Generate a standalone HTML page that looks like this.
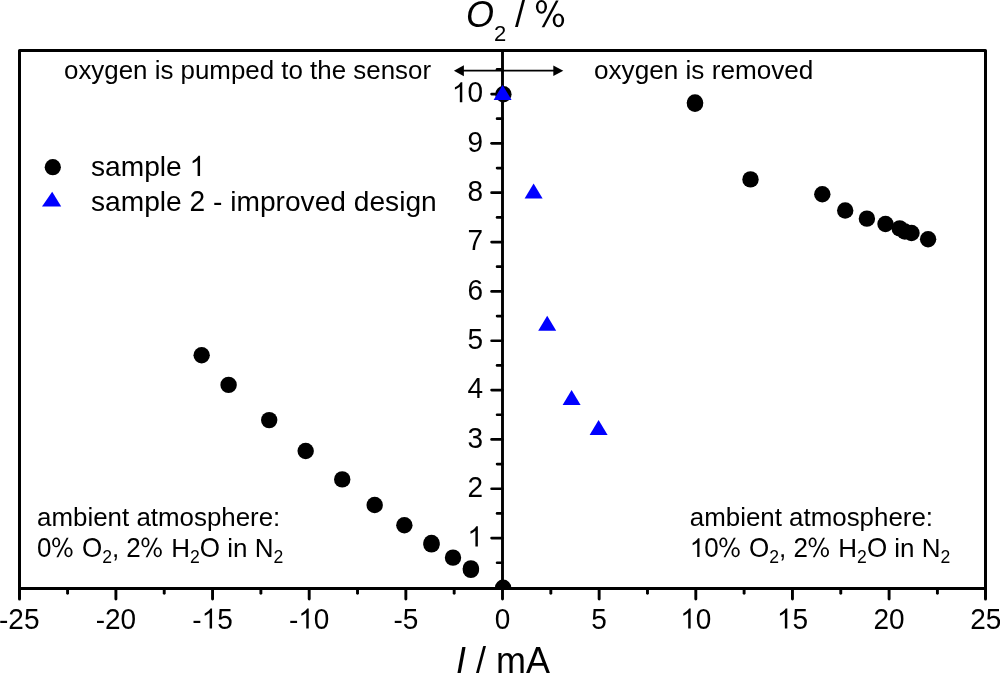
<!DOCTYPE html><html><head><meta charset="utf-8"><style>html,body{margin:0;padding:0;background:#fff;width:1000px;height:674px;overflow:hidden}svg{display:block;will-change:transform}text{font-family:"Liberation Sans",sans-serif;fill:#000;font-kerning:none;white-space:pre}</style></head><body><svg width="1000" height="674" viewBox="0 0 1000 674"><defs><clipPath id="pc"><rect x="19.5" y="50.5" width="966.0" height="539.5"/></clipPath></defs><g stroke="#000" fill="none"><rect x="19.5" y="50.5" width="966.0" height="538.0" stroke-width="3" stroke-linejoin="round"/><line x1="502.5" y1="50.5" x2="502.5" y2="588.5" stroke-width="2.9"/><line x1="19.50" y1="588.5" x2="19.50" y2="599" stroke-width="3" stroke-linecap="round"/><line x1="67.58" y1="588.5" x2="67.58" y2="593.2" stroke-width="2.9" stroke-linecap="round"/><line x1="115.90" y1="588.5" x2="115.90" y2="599" stroke-width="2.9" stroke-linecap="round"/><line x1="164.23" y1="588.5" x2="164.23" y2="593.2" stroke-width="2.9" stroke-linecap="round"/><line x1="212.55" y1="588.5" x2="212.55" y2="599" stroke-width="2.9" stroke-linecap="round"/><line x1="260.88" y1="588.5" x2="260.88" y2="593.2" stroke-width="2.9" stroke-linecap="round"/><line x1="309.20" y1="588.5" x2="309.20" y2="599" stroke-width="2.9" stroke-linecap="round"/><line x1="357.52" y1="588.5" x2="357.52" y2="593.2" stroke-width="2.9" stroke-linecap="round"/><line x1="405.85" y1="588.5" x2="405.85" y2="599" stroke-width="2.9" stroke-linecap="round"/><line x1="454.18" y1="588.5" x2="454.18" y2="593.2" stroke-width="2.9" stroke-linecap="round"/><line x1="502.50" y1="588.5" x2="502.50" y2="599" stroke-width="2.9" stroke-linecap="round"/><line x1="550.83" y1="588.5" x2="550.83" y2="593.2" stroke-width="2.9" stroke-linecap="round"/><line x1="599.15" y1="588.5" x2="599.15" y2="599" stroke-width="2.9" stroke-linecap="round"/><line x1="647.48" y1="588.5" x2="647.48" y2="593.2" stroke-width="2.9" stroke-linecap="round"/><line x1="695.80" y1="588.5" x2="695.80" y2="599" stroke-width="2.9" stroke-linecap="round"/><line x1="744.12" y1="588.5" x2="744.12" y2="593.2" stroke-width="2.9" stroke-linecap="round"/><line x1="792.45" y1="588.5" x2="792.45" y2="599" stroke-width="2.9" stroke-linecap="round"/><line x1="840.77" y1="588.5" x2="840.77" y2="593.2" stroke-width="2.9" stroke-linecap="round"/><line x1="889.10" y1="588.5" x2="889.10" y2="599" stroke-width="2.9" stroke-linecap="round"/><line x1="937.42" y1="588.5" x2="937.42" y2="593.2" stroke-width="2.9" stroke-linecap="round"/><line x1="985.50" y1="588.5" x2="985.50" y2="599" stroke-width="3" stroke-linecap="round"/><line x1="497.1" y1="562.76" x2="502.5" y2="562.76" stroke-width="2.7" stroke-linecap="round"/><line x1="491.6" y1="538.09" x2="502.5" y2="538.09" stroke-width="2.7" stroke-linecap="round"/><line x1="497.1" y1="513.42" x2="502.5" y2="513.42" stroke-width="2.7" stroke-linecap="round"/><line x1="491.6" y1="488.75" x2="502.5" y2="488.75" stroke-width="2.7" stroke-linecap="round"/><line x1="497.1" y1="464.08" x2="502.5" y2="464.08" stroke-width="2.7" stroke-linecap="round"/><line x1="491.6" y1="439.41" x2="502.5" y2="439.41" stroke-width="2.7" stroke-linecap="round"/><line x1="497.1" y1="414.74" x2="502.5" y2="414.74" stroke-width="2.7" stroke-linecap="round"/><line x1="491.6" y1="390.07" x2="502.5" y2="390.07" stroke-width="2.7" stroke-linecap="round"/><line x1="497.1" y1="365.40" x2="502.5" y2="365.40" stroke-width="2.7" stroke-linecap="round"/><line x1="491.6" y1="340.73" x2="502.5" y2="340.73" stroke-width="2.7" stroke-linecap="round"/><line x1="497.1" y1="316.06" x2="502.5" y2="316.06" stroke-width="2.7" stroke-linecap="round"/><line x1="491.6" y1="291.39" x2="502.5" y2="291.39" stroke-width="2.7" stroke-linecap="round"/><line x1="497.1" y1="266.72" x2="502.5" y2="266.72" stroke-width="2.7" stroke-linecap="round"/><line x1="491.6" y1="242.05" x2="502.5" y2="242.05" stroke-width="2.7" stroke-linecap="round"/><line x1="497.1" y1="217.38" x2="502.5" y2="217.38" stroke-width="2.7" stroke-linecap="round"/><line x1="491.6" y1="192.71" x2="502.5" y2="192.71" stroke-width="2.7" stroke-linecap="round"/><line x1="497.1" y1="168.04" x2="502.5" y2="168.04" stroke-width="2.7" stroke-linecap="round"/><line x1="491.6" y1="143.37" x2="502.5" y2="143.37" stroke-width="2.7" stroke-linecap="round"/><line x1="497.1" y1="118.70" x2="502.5" y2="118.70" stroke-width="2.7" stroke-linecap="round"/><line x1="491.6" y1="94.03" x2="502.5" y2="94.03" stroke-width="2.7" stroke-linecap="round"/><line x1="497.1" y1="69.36" x2="502.5" y2="69.36" stroke-width="2.7" stroke-linecap="round"/></g><line x1="463" y1="70.6" x2="554" y2="70.6" stroke="#000" stroke-width="1.9"/><path d="M453.9 70.8L463.9 65.2L463.9 76.2Z" fill="#000"/><path d="M563.3 70.8L553.3 65.4L553.3 76.1Z" fill="#000"/><g clip-path="url(#pc)" fill="#000"><circle cx="201.66" cy="355.20" r="8.2"/><circle cx="228.60" cy="384.90" r="8.2"/><circle cx="269.20" cy="420.10" r="8.2"/><circle cx="305.67" cy="451.07" r="8.2"/><circle cx="342.24" cy="479.40" r="8.2"/><circle cx="374.69" cy="504.98" r="8.2"/><circle cx="404.36" cy="525.30" r="8.2"/><circle cx="431.50" cy="543.00" r="8.2"/><circle cx="431.50" cy="544.40" r="8.2"/><circle cx="453.00" cy="557.67" r="8.2"/><circle cx="470.90" cy="568.40" r="8.2"/><circle cx="470.90" cy="569.90" r="8.2"/><circle cx="503.10" cy="587.70" r="8.2"/><circle cx="503.40" cy="94.30" r="8.2"/><circle cx="695.00" cy="102.50" r="8.2"/><circle cx="695.00" cy="103.70" r="8.2"/><circle cx="750.50" cy="179.40" r="8.2"/><circle cx="822.30" cy="194.30" r="8.2"/><circle cx="845.20" cy="210.50" r="8.2"/><circle cx="866.90" cy="218.65" r="8.2"/><circle cx="885.50" cy="224.00" r="8.2"/><circle cx="899.70" cy="228.40" r="8.2"/><circle cx="904.80" cy="231.50" r="8.2"/><circle cx="911.50" cy="233.00" r="8.2"/><circle cx="928.10" cy="239.30" r="8.2"/></g><g fill="#0000ff"><path d="M502.60 85.00L511.60 100.00L493.60 100.00Z"/><path d="M533.60 183.60L542.60 198.60L524.60 198.60Z"/><path d="M547.20 315.80L556.20 330.80L538.20 330.80Z"/><path d="M571.60 390.00L580.60 405.00L562.60 405.00Z"/><path d="M598.60 420.00L607.60 435.00L589.60 435.00Z"/></g><text x="-0.98" y="628.50" font-size="28">-</text><text x="0" y="0" font-size="28" transform="translate(8.34 628.50) scale(1 1.040)">25</text><text x="95.67" y="628.50" font-size="28">-</text><text x="0" y="0" font-size="28" transform="translate(104.99 628.50) scale(1 1.040)">20</text><text x="192.32" y="628.50" font-size="28">-</text><path transform="translate(201.64 628.50) scale(0.01367 -0.01367)" d="M763 0H583V1147Q518 1085 412.5 1023Q307 961 223 930V1104Q374 1175 487 1276Q600 1377 647 1472H763V0Z"/><text x="0" y="0" font-size="28" transform="translate(217.21 628.50) scale(1 1.040)">5</text><text x="288.97" y="628.50" font-size="28">-</text><path transform="translate(298.29 628.50) scale(0.01367 -0.01367)" d="M763 0H583V1147Q518 1085 412.5 1023Q307 961 223 930V1104Q374 1175 487 1276Q600 1377 647 1472H763V0Z"/><text x="0" y="0" font-size="28" transform="translate(313.86 628.50) scale(1 1.040)">0</text><text x="393.40" y="628.50" font-size="28">-</text><text x="0" y="0" font-size="28" transform="translate(402.73 628.50) scale(1 1.040)">5</text><text x="0" y="0" font-size="28" transform="translate(494.71 628.50) scale(1 1.040)">0</text><text x="0" y="0" font-size="28" transform="translate(591.36 628.50) scale(1 1.040)">5</text><path transform="translate(680.23 628.50) scale(0.01367 -0.01367)" d="M763 0H583V1147Q518 1085 412.5 1023Q307 961 223 930V1104Q374 1175 487 1276Q600 1377 647 1472H763V0Z"/><text x="0" y="0" font-size="28" transform="translate(695.80 628.50) scale(1 1.040)">0</text><path transform="translate(776.88 628.50) scale(0.01367 -0.01367)" d="M763 0H583V1147Q518 1085 412.5 1023Q307 961 223 930V1104Q374 1175 487 1276Q600 1377 647 1472H763V0Z"/><text x="0" y="0" font-size="28" transform="translate(792.45 628.50) scale(1 1.040)">5</text><text x="0" y="0" font-size="28" transform="translate(873.53 628.50) scale(1 1.040)">20</text><text x="0" y="0" font-size="28" transform="translate(970.18 628.50) scale(1 1.040)">25</text><path transform="translate(467.43 546.39) scale(0.01367 -0.01367)" d="M763 0H583V1147Q518 1085 412.5 1023Q307 961 223 930V1104Q374 1175 487 1276Q600 1377 647 1472H763V0Z"/><text x="0" y="0" font-size="28" transform="translate(467.43 497.05) scale(1 1.040)">2</text><text x="0" y="0" font-size="28" transform="translate(467.43 447.71) scale(1 1.040)">3</text><text x="0" y="0" font-size="28" transform="translate(467.43 398.37) scale(1 1.040)">4</text><text x="0" y="0" font-size="28" transform="translate(467.43 349.03) scale(1 1.040)">5</text><text x="0" y="0" font-size="28" transform="translate(467.43 299.69) scale(1 1.040)">6</text><text x="0" y="0" font-size="28" transform="translate(467.43 250.35) scale(1 1.040)">7</text><text x="0" y="0" font-size="28" transform="translate(467.43 201.01) scale(1 1.040)">8</text><text x="0" y="0" font-size="28" transform="translate(467.43 151.67) scale(1 1.040)">9</text><path transform="translate(451.86 102.33) scale(0.01367 -0.01367)" d="M763 0H583V1147Q518 1085 412.5 1023Q307 961 223 930V1104Q374 1175 487 1276Q600 1377 647 1472H763V0Z"/><text x="0" y="0" font-size="28" transform="translate(467.43 102.33) scale(1 1.040)">0</text><text x="0" y="0" font-size="36" font-style="italic" transform="translate(466.00 27.00) scale(1 1.045)">O</text><text x="0" y="0" font-size="22" transform="translate(494.00 41.00) scale(1 1.040)">2</text><text x="505.04" y="27.00" font-size="36"> / </text><g transform="translate(535.04 27.00) scale(0.01758 -0.01758)"><path fill-rule="evenodd" d="M47 1145A318 385 0 1 0 683 1145A318 385 0 1 0 47 1145ZM187 1145A178 278 0 1 0 543 1145A178 278 0 1 0 187 1145ZM1005 380A325 390 0 1 0 1655 380A325 390 0 1 0 1005 380ZM1148 380A182 275 0 1 0 1512 380A182 275 0 1 0 1148 380Z"/><path d="M380 -20L530 -20L1340 1510L1190 1510Z"/></g><text x="0" y="0" font-size="36" font-style="italic" transform="translate(456.00 673.00) scale(1 1.020)">I</text><text x="466.00" y="673.00" font-size="36"> / m</text><text x="0" y="0" font-size="36" transform="translate(525.99 673.00) scale(1 1.020)">A</text><text x="64.00" y="79.40" font-size="25.9">oxygen is pumped to the sensor</text><text x="594.00" y="79.40" font-size="26.15">oxygen is removed</text><circle cx="52.8" cy="167.2" r="8.1" fill="#000"/><path d="M52.2 191.7L61.2 206.5L42.0 206.5Z" fill="#0000ff"/><text x="91.00" y="176.10" font-size="28.15">sample </text><path transform="translate(189.57 176.10) scale(0.01375 -0.01375)" d="M763 0H583V1147Q518 1085 412.5 1023Q307 961 223 930V1104Q374 1175 487 1276Q600 1377 647 1472H763V0Z"/><text x="91.00" y="210.60" font-size="28.15">sample </text><text x="0" y="0" font-size="28.15" transform="translate(189.57 210.60) scale(1 1.040)">2</text><text x="205.22" y="210.60" font-size="28.15"> - improved design</text><text x="37.10" y="526.00" font-size="25.9">ambient atmosphere:</text><text x="0" y="0" font-size="26" transform="translate(37.10 557.00) scale(1 1.040)">0</text><g transform="translate(51.56 557.00) scale(0.01270 -0.01270)"><path fill-rule="evenodd" d="M47 1145A318 385 0 1 0 683 1145A318 385 0 1 0 47 1145ZM187 1145A178 278 0 1 0 543 1145A178 278 0 1 0 187 1145ZM1005 380A325 390 0 1 0 1655 380A325 390 0 1 0 1005 380ZM1148 380A182 275 0 1 0 1512 380A182 275 0 1 0 1148 380Z"/><path d="M380 -20L530 -20L1340 1510L1190 1510Z"/></g><text x="0" y="0" font-size="26" transform="translate(81.90 557.00) scale(1 1.045)">O</text><text x="0" y="0" font-size="17.6" transform="translate(102.13 563.00) scale(1 1.040)">2</text><text x="111.91" y="557.00" font-size="26">, </text><text x="0" y="0" font-size="26" transform="translate(126.36 557.00) scale(1 1.040)">2</text><g transform="translate(140.82 557.00) scale(0.01270 -0.01270)"><path fill-rule="evenodd" d="M47 1145A318 385 0 1 0 683 1145A318 385 0 1 0 47 1145ZM187 1145A178 278 0 1 0 543 1145A178 278 0 1 0 187 1145ZM1005 380A325 390 0 1 0 1655 380A325 390 0 1 0 1005 380ZM1148 380A182 275 0 1 0 1512 380A182 275 0 1 0 1148 380Z"/><path d="M380 -20L530 -20L1340 1510L1190 1510Z"/></g><text x="0" y="0" font-size="26" transform="translate(171.16 557.00) scale(1 1.020)">H</text><text x="0" y="0" font-size="17.6" transform="translate(189.94 563.00) scale(1 1.040)">2</text><text x="0" y="0" font-size="26" transform="translate(199.73 557.00) scale(1 1.045)">O</text><text x="219.95" y="557.00" font-size="26"> in </text><text x="0" y="0" font-size="26" transform="translate(254.63 557.00) scale(1 1.020)">N</text><text x="0" y="0" font-size="17.6" transform="translate(273.41 563.00) scale(1 1.040)">2</text><text x="689.80" y="526.00" font-size="25.9">ambient atmosphere:</text><path transform="translate(689.80 557.00) scale(0.01270 -0.01270)" d="M763 0H583V1147Q518 1085 412.5 1023Q307 961 223 930V1104Q374 1175 487 1276Q600 1377 647 1472H763V0Z"/><text x="0" y="0" font-size="26" transform="translate(704.26 557.00) scale(1 1.040)">0</text><g transform="translate(718.72 557.00) scale(0.01270 -0.01270)"><path fill-rule="evenodd" d="M47 1145A318 385 0 1 0 683 1145A318 385 0 1 0 47 1145ZM187 1145A178 278 0 1 0 543 1145A178 278 0 1 0 187 1145ZM1005 380A325 390 0 1 0 1655 380A325 390 0 1 0 1005 380ZM1148 380A182 275 0 1 0 1512 380A182 275 0 1 0 1148 380Z"/><path d="M380 -20L530 -20L1340 1510L1190 1510Z"/></g><text x="0" y="0" font-size="26" transform="translate(749.06 557.00) scale(1 1.045)">O</text><text x="0" y="0" font-size="17.6" transform="translate(769.29 563.00) scale(1 1.040)">2</text><text x="779.07" y="557.00" font-size="26">, </text><text x="0" y="0" font-size="26" transform="translate(793.52 557.00) scale(1 1.040)">2</text><g transform="translate(807.98 557.00) scale(0.01270 -0.01270)"><path fill-rule="evenodd" d="M47 1145A318 385 0 1 0 683 1145A318 385 0 1 0 47 1145ZM187 1145A178 278 0 1 0 543 1145A178 278 0 1 0 187 1145ZM1005 380A325 390 0 1 0 1655 380A325 390 0 1 0 1005 380ZM1148 380A182 275 0 1 0 1512 380A182 275 0 1 0 1148 380Z"/><path d="M380 -20L530 -20L1340 1510L1190 1510Z"/></g><text x="0" y="0" font-size="26" transform="translate(838.32 557.00) scale(1 1.020)">H</text><text x="0" y="0" font-size="17.6" transform="translate(857.10 563.00) scale(1 1.040)">2</text><text x="0" y="0" font-size="26" transform="translate(866.89 557.00) scale(1 1.045)">O</text><text x="887.11" y="557.00" font-size="26"> in </text><text x="0" y="0" font-size="26" transform="translate(921.79 557.00) scale(1 1.020)">N</text><text x="0" y="0" font-size="17.6" transform="translate(940.57 563.00) scale(1 1.040)">2</text></svg></body></html>
